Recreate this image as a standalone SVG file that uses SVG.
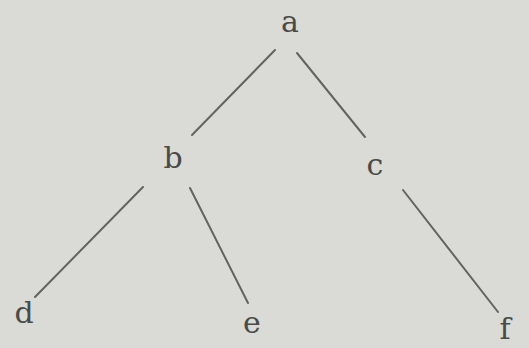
<svg xmlns="http://www.w3.org/2000/svg" width="529" height="348" viewBox="0 0 529 348">
<style>
.lbl{font-family:"DejaVu Serif","Liberation Serif",serif;font-size:30px;fill:#4a4a48;text-anchor:middle}
.edge{stroke:#636360;stroke-width:2;stroke-linecap:round}
</style>
<rect width="529" height="348" fill="#dadad6"/>
<g id="connectors">
<line class="edge" x1="275" y1="50" x2="192" y2="135"/>
<line class="edge" x1="297" y1="53" x2="365" y2="137"/>
<line class="edge" x1="143" y1="187" x2="35" y2="297"/>
<line class="edge" x1="190" y1="188" x2="248" y2="303"/>
<line class="edge" x1="403" y1="190" x2="498" y2="312"/>
</g>
<g id="node-a"><text class="lbl" x="290" y="32">a</text></g>
<g id="node-b"><text class="lbl" x="173" y="168">b</text></g>
<g id="node-c"><text class="lbl" x="375" y="175">c</text></g>
<g id="node-d"><text class="lbl" x="24" y="323">d</text></g>
<g id="node-e"><text class="lbl" x="252" y="333">e</text></g>
<g id="node-f"><text class="lbl" x="505" y="339">f</text></g>
</svg>
